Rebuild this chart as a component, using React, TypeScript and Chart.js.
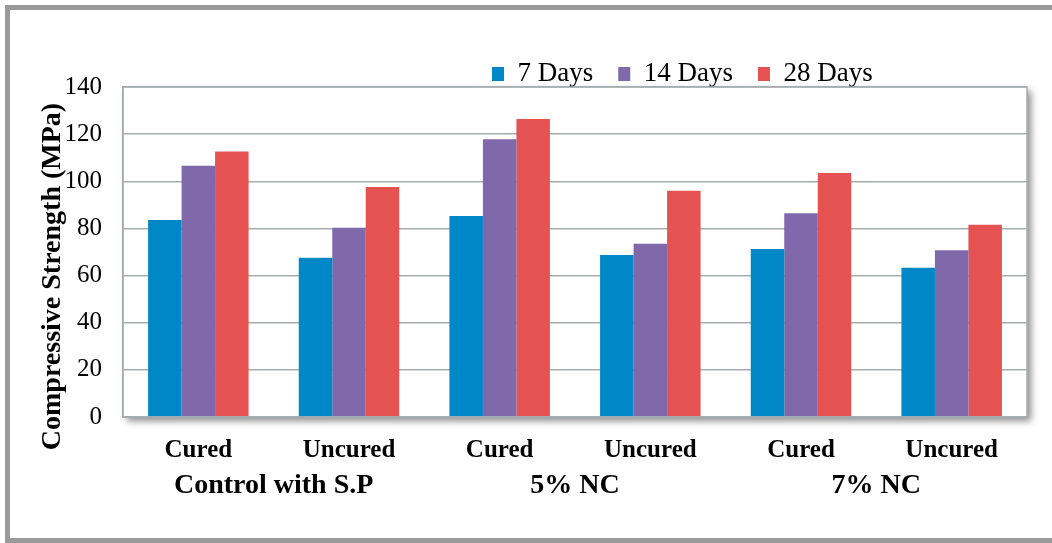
import React, { useEffect, useRef } from "react";
import { Chart, registerables } from "chart.js";

Chart.register(...registerables);

const categories = ["Cured", "Uncured", "Cured", "Uncured", "Cured", "Uncured"];
const groupLabels = ["Control with S.P", "5% NC", "7% NC"];
const days7 = [83.6, 67.6, 85.3, 68.7, 71.3, 63.3];
const days14 = [106.6, 80.3, 117.8, 73.5, 86.4, 70.7];
const days28 = [112.6, 97.6, 126.4, 96.0, 103.5, 81.6];
const seriesNames = ["7 Days", "14 Days", "28 Days"];
const yTitle = "Compressive Strength (MPa)";

const SERIF = "'Liberation Serif', 'Times New Roman', serif";
const GRID = "#a7acaf";

const framePlugin = {
  id: "framePlugin",
  afterLayout(chart: any) {
    const lg = chart.legend;
    if (lg) {
      const w = lg.right - lg.left;
      lg.left = 467;
      lg.right = 467 + w;
      lg.top += 10.5;
      lg.bottom += 10.5;
    }
  },
  beforeDraw(chart: any) {
    const { ctx, chartArea: a } = chart;
    ctx.save();
    ctx.strokeStyle = "#9a9a9a";
    ctx.lineWidth = 5;
    ctx.strokeRect(7.5, 7.5, 1100, 533);
    ctx.shadowColor = "rgba(0,0,0,0.45)";
    ctx.shadowBlur = 7;
    ctx.shadowOffsetX = 4;
    ctx.shadowOffsetY = 4;
    ctx.fillStyle = "#ffffff";
    ctx.fillRect(a.left, a.top, a.right - a.left, a.bottom - a.top);
    ctx.restore();
  },
  afterDraw(chart: any) {
    const { ctx, chartArea: a } = chart;
    ctx.save();
    ctx.strokeStyle = GRID;
    ctx.lineWidth = 1.5;
    ctx.strokeRect(a.left, a.top, a.right - a.left, a.bottom - a.top);
    ctx.restore();
  },
};

export default function App() {
  const ref = useRef<HTMLCanvasElement | null>(null);
  useEffect(() => {
    if (!ref.current) return;
    const chart = new Chart(ref.current, {
      type: "bar",
      data: {
        labels: categories,
        datasets: [
          { label: seriesNames[0], data: days7, backgroundColor: "#0087c7" },
          { label: seriesNames[1], data: days14, backgroundColor: "#7f69aa" },
          { label: seriesNames[2], data: days28, backgroundColor: "#e45352" },
        ],
      },
      options: {
        responsive: false,
        animation: false,
        layout: { padding: { left: 36, right: 25, top: 25, bottom: 34 } },
        datasets: { bar: { categoryPercentage: 0.667, barPercentage: 1 } },
        plugins: {
          legend: {
            position: "top",
            align: "start",
            labels: {
              boxWidth: 12,
              boxHeight: 14,
              padding: 25,
              color: "#000",
              font: { family: SERIF, size: 27 },
            },
          },
          tooltip: { enabled: false },
        },
        scales: {
          x: {
            weight: 0,
            grid: { display: false, drawTicks: false },
            border: { display: true, color: GRID, width: 1.5 },
            ticks: {
              color: "#000",
              padding: 19,
              font: { family: SERIF, size: 25, weight: "bold" },
            },
            afterFit: (scale: any) => {
              scale.height = 52;
            },
          },
          x2: {
            type: "category",
            labels: groupLabels,
            position: "bottom",
            offset: true,
            weight: 1,
            grid: { display: false, drawTicks: false },
            border: { display: false },
            ticks: {
              color: "#000",
              padding: 0,
              font: { family: SERIF, size: 28, weight: "bold" },
            },
            afterFit: (scale: any) => {
              scale.height = 40;
            },
          },
          y: {
            min: 0,
            max: 140,
            grid: { color: GRID, lineWidth: 1.5, drawTicks: false },
            border: { display: true, color: GRID, width: 1.5 },
            ticks: {
              stepSize: 20,
              color: "#000",
              padding: 21,
              font: { family: SERIF, size: 25 },
            },
            title: {
              display: true,
              text: yTitle + "       ",
              color: "#000",
              padding: 0,
              font: { family: SERIF, size: 28, weight: "bold" },
            },
            afterFit: (scale: any) => {
              scale.width = 87;
            },
          },
        },
      },
      plugins: [framePlugin],
    });
    return () => chart.destroy();
  }, []);
  return (
    <div style={{ position: "absolute", left: 0, top: 0, width: 1052, height: 543, background: "#fff", overflow: "hidden" }}>
      <canvas ref={ref} width={1052} height={543} style={{ display: "block" }} />
    </div>
  );
}
